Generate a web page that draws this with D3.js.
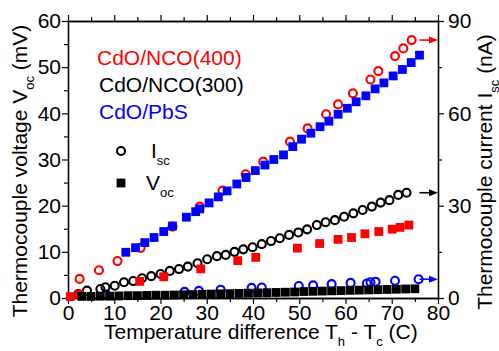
<!DOCTYPE html>
<html>
<head>
<meta charset="utf-8">
<script src="https://cdn.jsdelivr.net/npm/d3@7"></script>
<style>
  body { margin: 0; background: #fff; }
  text { font-family: "Liberation Sans", Arial, sans-serif; }
</style>
</head>
<body>
<div id="chart-holder"></div>
<script>
// temperature difference (C) and values
// circles = Isc (nA, right axis), squares = Voc (mV, left axis)
var nco400IscT = [2.5, 6.7, 10.7, 15.7, 22.6, 28.5, 33.4, 38.4, 42.2, 48.0, 51.8, 55.8, 58.4, 61.6, 65.4, 67.1, 70.7, 72.5, 74.3];
var nco400Isc = [6.2, 9.0, 12.0, 16.3, 23.2, 29.7, 34.9, 40.2, 44.3, 50.8, 55.1, 59.7, 62.9, 66.5, 71.0, 73.7, 78.6, 81.1, 83.8];

var nco400VocT = [0.5, 2.5, 15.5, 20.7, 28.7, 36.7, 40.6, 49.6, 54.4, 58.4, 61.3, 64.2, 67.2, 70.1, 71.8, 73.7];
var nco400Voc = [0.3, 0.8, 3.6, 4.6, 6.3, 8.1, 8.8, 10.8, 11.8, 12.7, 13.1, 13.9, 14.4, 14.9, 15.3, 15.8];

var nco300IscT = [2.2, 4.1, 7.0, 8.1, 10.1, 12.1, 14.1, 16.0, 18.0, 20.0, 22.0, 24.0, 25.9, 28.0, 30.1, 32.2, 34.1, 36.0, 37.9, 39.9,
  41.9, 43.9, 45.8, 47.8, 49.8, 51.7, 53.8, 55.7, 57.7, 59.7, 61.7, 63.7, 65.7, 67.6, 69.5, 71.4, 73.2];
var nco300Isc = [1.3, 2.4, 2.9, 3.5, 4.0, 5.1, 5.5, 6.4, 7.1, 7.8, 8.8, 9.4, 10.2, 11.3, 12.6, 13.6, 14.0, 15.0, 15.8, 16.5,
  17.5, 18.5, 19.4, 20.5, 21.3, 22.3, 23.7, 24.6, 25.3, 26.4, 27.5, 28.6, 29.7, 31.0, 31.8, 33.5, 34.2];

var nco300VocT = [3, 5, 7, 9, 11, 13, 15, 17, 19, 21, 23, 25, 27, 29, 31, 33, 35, 37, 39, 41,
  43, 45, 47, 49, 51, 53, 55, 57, 59, 61, 63, 65, 67, 69, 71, 73, 75];
var nco300Voc = [0.35, 0.35, 0.4, 0.4, 0.45, 0.5, 0.5, 0.55, 0.6, 0.6, 0.65, 0.7, 0.75, 0.8, 0.85, 0.9, 0.95, 1.0, 1.05, 1.1,
  1.15, 1.2, 1.25, 1.3, 1.4, 1.45, 1.5, 1.55, 1.6, 1.65, 1.7, 1.75, 1.8, 1.85, 1.9, 1.95, 2.0];

var pbsIscT = [8.3, 25.2, 28.3, 33.0, 39.7, 41.9, 49.9, 53.0, 57.0, 61.1, 64.6, 65.4, 66.5, 70.7, 75.8];
var pbsIsc = [1.1, 2.0, 2.3, 2.7, 3.3, 3.4, 3.9, 4.1, 4.5, 4.9, 4.7, 5.1, 5.3, 5.6, 6.1];

var pbsVocT = [12.5, 14.6, 16.6, 18.6, 20.7, 22.6, 25.6, 27.6, 28.5, 30.5, 32.5, 34.4, 36.5, 38.5, 40.5, 42.6, 44.5,
  46.6, 48.6, 50.5, 52.5, 54.5, 56.4, 58.4, 60.4, 62.3, 64.4, 66.4, 68.3, 70.3, 72.3, 74.2, 76.0];
var pbsVoc = [9.9, 10.9, 12.0, 13.1, 14.4, 15.6, 17.5, 18.7, 19.3, 20.6, 21.9, 23.2, 24.7, 26.1, 27.6, 28.8, 30.0,
  31.0, 32.8, 34.4, 35.7, 37.1, 38.3, 39.8, 41.1, 42.5, 43.8, 45.3, 46.6, 48.1, 49.5, 51.0, 52.6];

var xTicks = [0, 10, 20, 30, 40, 50, 60, 70, 80];
var leftTicks = [0, 10, 20, 30, 40, 50, 60];
var rightTicks = [0, 30, 60, 90];
var legendNames = ["CdO/NCO(400)", "CdO/NCO(300)", "CdO/PbS"];
var legendColors = ["#ff0000", "#000000", "#0000ff"];

var W = 499, H = 351;
// plot box (window.top is reserved, so prefixed names)
var pLeft = 68, pRight = 438, pTop = 21, pBottom = 298;

var svg = d3.select("#chart-holder").append("svg")
  .attr("width", W)
  .attr("height", H);

var x = d3.scaleLinear().domain([0, 80]).range([pLeft, pRight]);
var yL = d3.scaleLinear().domain([0, 60]).range([pBottom, pTop]);
var yR = d3.scaleLinear().domain([0, 90]).range([pBottom, pTop]);

function pairs(t, v) {
  return t.map(function (d, i) { return { t: d, v: v[i] }; });
}
function styleAxis(g) {
  g.selectAll("path").attr("stroke", "#000").attr("stroke-width", 1.3);
  g.selectAll("line").attr("stroke", "#000").attr("stroke-width", 1.2);
  g.selectAll("text").attr("font-size", 21).attr("fill", "#000")
    .attr("font-family", "Liberation Sans, Arial, sans-serif");
}
var minorX = d3.range(5, 80, 10);
var minorL = d3.range(5, 60, 10);
var minorR = [15, 45, 75];

// axes, majors then minors
svg.append("g").attr("transform", "translate(0," + pBottom + ")")
  .call(d3.axisBottom(x).tickValues(xTicks).tickSize(6).tickSizeOuter(0).tickPadding(1)).call(styleAxis);
svg.append("g").attr("transform", "translate(0," + pBottom + ")")
  .call(d3.axisBottom(x).tickValues(minorX).tickSize(4).tickSizeOuter(0).tickFormat("")).call(styleAxis);
svg.append("g").attr("transform", "translate(0," + pTop + ")")
  .call(d3.axisTop(x).tickValues(xTicks).tickSize(6).tickSizeOuter(0).tickFormat("")).call(styleAxis);
svg.append("g").attr("transform", "translate(0," + pTop + ")")
  .call(d3.axisTop(x).tickValues(minorX).tickSize(4).tickSizeOuter(0).tickFormat("")).call(styleAxis);

svg.append("g").attr("transform", "translate(" + pLeft + ",0)")
  .call(d3.axisLeft(yL).tickValues(leftTicks).tickSize(6).tickSizeOuter(0).tickPadding(1)).call(styleAxis);
svg.append("g").attr("transform", "translate(" + pLeft + ",0)")
  .call(d3.axisLeft(yL).tickValues(minorL).tickSize(4).tickSizeOuter(0).tickFormat("")).call(styleAxis);

svg.append("g").attr("transform", "translate(" + pRight + ",0)")
  .call(d3.axisRight(yR).tickValues(rightTicks).tickSize(6).tickSizeOuter(0).tickPadding(4)).call(styleAxis);
svg.append("g").attr("transform", "translate(" + pRight + ",0)")
  .call(d3.axisRight(yR).tickValues(minorR).tickSize(4).tickSizeOuter(0).tickFormat("")).call(styleAxis);

// markers
var R = 4.0, S = 8.8;
function circles(data, color) {
  svg.append("g").selectAll("circle").data(data).enter().append("circle")
    .attr("cx", function (d) { return x(d.t); })
    .attr("cy", function (d) { return yR(d.v); })
    .attr("r", R)
    .attr("fill", "none")
    .attr("stroke", color)
    .attr("stroke-width", 2.1);
}
function squares(data, color) {
  svg.append("g").selectAll("rect").data(data).enter().append("rect")
    .attr("x", function (d) { return x(d.t) - S / 2; })
    .attr("y", function (d) { return yL(d.v) - S / 2; })
    .attr("width", S)
    .attr("height", S)
    .attr("fill", color);
}
circles(pairs(nco400IscT, nco400Isc), "#ff0000");
circles(pairs(pbsIscT, pbsIsc), "#0000ff");
circles(pairs(nco300IscT, nco300Isc), "#000000");
squares(pairs(nco400VocT, nco400Voc), "#ff0000");
squares(pairs(pbsVocT, pbsVoc), "#0000ff");
squares(pairs(nco300VocT, nco300Voc), "#000000");

// arrows toward the right axis, at the last Isc value
function arrow(v, color) {
  var y = yR(v), x0 = x(76), x1 = x(80);
  svg.append("line").attr("x1", x0).attr("x2", x1 - 6).attr("y1", y).attr("y2", y)
    .attr("stroke", color).attr("stroke-width", 1.6);
  svg.append("path")
    .attr("d", "M" + x1 + "," + y + "L" + (x1 - 9) + "," + (y - 3.5) + "L" + (x1 - 9) + "," + (y + 3.5) + "Z")
    .attr("fill", color);
}
arrow(nco400Isc[nco400Isc.length - 1], "#ff0000");
arrow(nco300Isc[nco300Isc.length - 1], "#000000");
arrow(pbsIsc[pbsIsc.length - 1], "#0000ff");

// legend
svg.append("g").selectAll("text").data(legendNames).enter().append("text")
  .attr("x", function (d, i) { return i == 0 ? 97 : 99; })
  .attr("y", function (d, i) { return 65 + i * 27; })
  .attr("font-size", 21)
  .attr("fill", function (d, i) { return legendColors[i]; })
  .text(function (d) { return d; });

svg.append("circle").attr("cx", 121).attr("cy", 151).attr("r", R)
  .attr("fill", "none").attr("stroke", "#000").attr("stroke-width", 2.1);
svg.append("rect").attr("x", 121 - S / 2).attr("y", 183 - S / 2).attr("width", S).attr("height", S).attr("fill", "#000");

function subText(g, x0, y0, parts, attrs) {
  var t = g.append("text").attr("x", x0).attr("y", y0).attr("font-size", 21).attr("fill", "#000");
  if (attrs) t.attr("transform", attrs);
  parts.forEach(function (p) {
    if (p.sub) {
      t.append("tspan").attr("font-size", 13).attr("dy", 7).text(p.s);
    } else {
      t.append("tspan").attr("dy", p.back ? -7 : 0).text(p.s);
    }
  });
  return t;
}
subText(svg, 151, 158, [{ s: "I" }, { s: "sc", sub: true }]);
subText(svg, 146, 190, [{ s: "V" }, { s: "oc", sub: true }]);

// axis titles
subText(svg, 104, 339, [{ s: "Temperature difference T" }, { s: "h", sub: true },
  { s: " - T", back: true }, { s: "c", sub: true }, { s: " (C)", back: true }]);

var lt = subText(svg, 0, 0, [{ s: "Thermocouple voltage V" }, { s: "oc", sub: true }, { s: " (mV)", back: true }]);
lt.attr("text-anchor", "middle").attr("transform", "translate(27,171) rotate(-90)");

var rt = subText(svg, 0, 0, [{ s: "Thermocouple current I" }, { s: "sc", sub: true }, { s: " (nA)", back: true }]);
rt.attr("text-anchor", "middle").attr("transform", "translate(492,172) rotate(-90)");
</script>
</body>
</html>
